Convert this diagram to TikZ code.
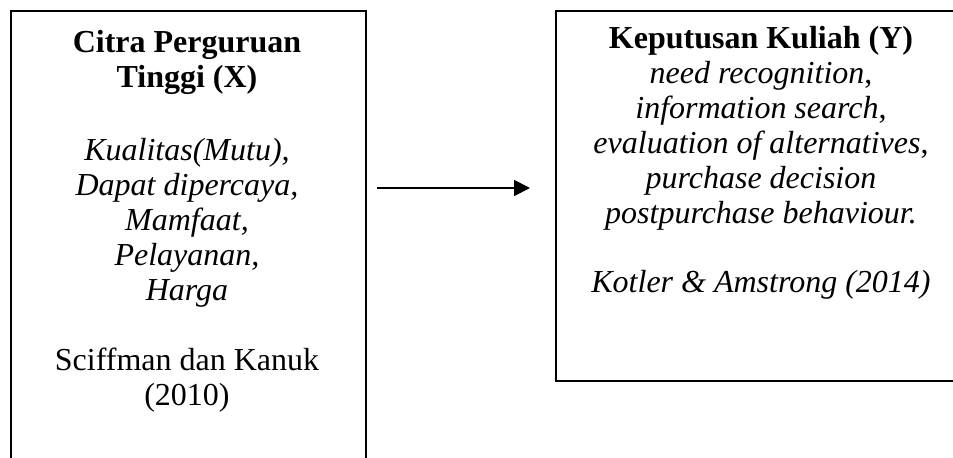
\documentclass[tikz,border=0pt]{standalone}
\usepackage{fontspec}
\setmainfont{Liberation Serif}
\usetikzlibrary{arrows.meta}
\newcommand{\boxfont}{\fontsize{16}{17.5}\selectfont}
\tikzset{>={Triangle[length=8pt,width=8pt]}}
\tikzset{
  box/.style={draw, line width=1pt, rectangle, inner sep=0pt},
  txt/.style={align=center, inner sep=0pt, anchor=base, font=\boxfont}
}

\begin{document}
\begin{tikzpicture}
     \useasboundingbox (0,0) rectangle (476.5pt,228.5pt);
     \clip (0,0) rectangle (476.5pt,228.5pt);
     % the two boxes
     \node[box, minimum width=177.75pt, minimum height=240pt, anchor=north west] (xbox) at (4.75pt,223.5pt) {};
     \node[box, minimum width=207pt, minimum height=185pt, anchor=north west] (ybox) at (277.25pt,223.5pt) {};
     % variable X (base = last line)
     \node[txt, font=\boxfont\bfseries] (xtitle) at (93.5pt,185pt) {Citra Perguruan\\Tinggi (X)};
     \node[txt, font=\boxfont\itshape] (xlist) at (93.5pt,78.5pt) {Kualitas(Mutu),\\Dapat dipercaya,\\Mamfaat,\\Pelayanan,\\Harga};
     \node[txt] (xsrc) at (93.5pt,26pt) {Sciffman dan Kanuk\\(2010)};
     % variable Y
     \node[txt] (ytitle) at (380.5pt,117pt) {\textbf{Keputusan Kuliah (Y)}\\\textit{need recognition},\\\textit{information search},\\\textit{evaluation of alternatives},\\\textit{purchase decision}\\\textit{postpurchase behaviour.}};
     \node[txt, font=\boxfont\itshape] (ysrc) at (380.5pt,82.5pt) {Kotler \& Amstrong (2014)};
     % X -> Y
     \coordinate (arr) at (0,134.5pt);
     \draw[->, line width=1pt, shorten <=5pt, shorten >=12.25pt] (xbox.east |- arr) -- (ybox.west |- arr);
\end{tikzpicture}
\end{document}
